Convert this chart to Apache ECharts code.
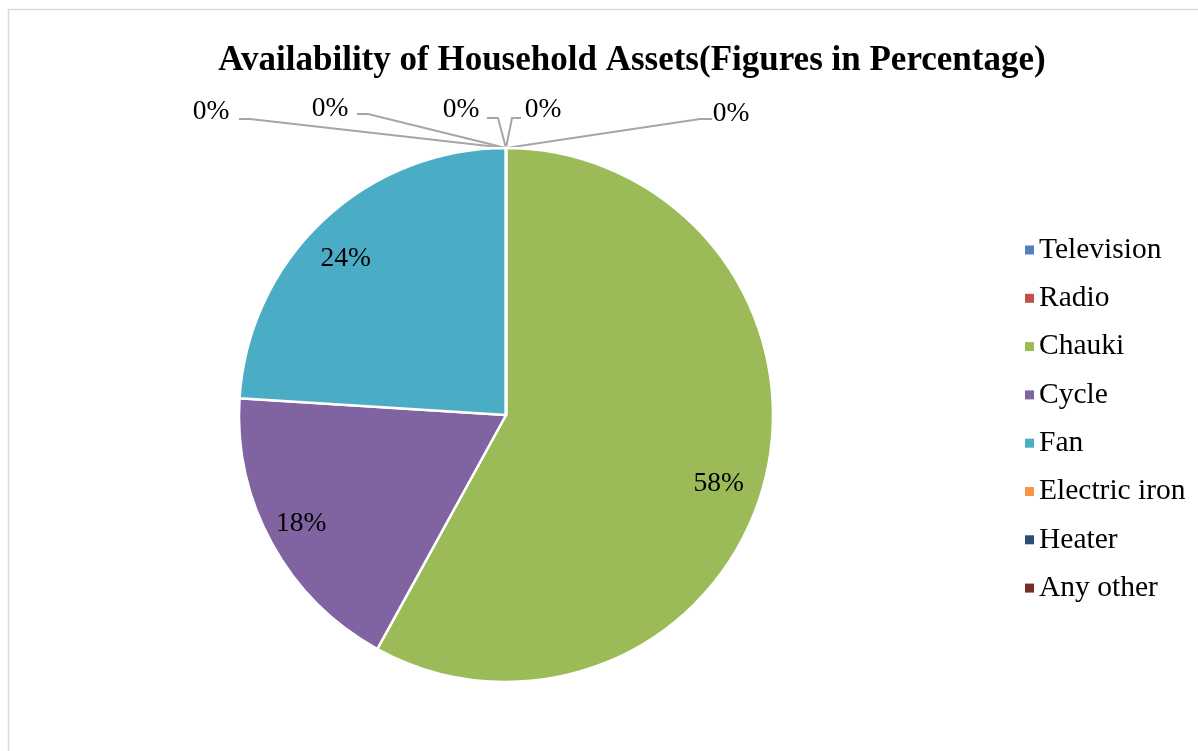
<!DOCTYPE html>
<html>
<head>
<meta charset="utf-8">
<script src="https://cdn.jsdelivr.net/npm/echarts@6/dist/echarts.min.js"></script>
<style>
html,body{margin:0;padding:0;background:#fff;}
#chart{width:1198px;height:751px;}
</style>
</head>
<body>
<div id="chart"></div>
<script>
// ---- data ----
const categories = ['Television', 'Radio', 'Chauki', 'Cycle', 'Fan', 'Electric iron', 'Heater', 'Any other'];
const values = [0, 0, 58, 18, 24, 0, 0, 0];
const colors = ['#4F81BD', '#C0504D', '#9BBB59', '#8064A2', '#4BACC6', '#F79646', '#2C4D75', '#772C2A'];
const titleText = 'Availability of Household Assets(Figures in Percentage)';

// ---- layout ----
const CX = 506, CY = 415, R = 267;
// labels of zero-value slices: [labelCenterX, labelCenterY, elbowX, elbowY, endX]
const zeroLabelLayout = {
  0: [543, 110, 512, 118, 521],
  1: [731, 114, 700, 119, 712],
  5: [211, 112, 250, 119, 239],
  6: [330, 109, 368, 114, 357],
  7: [461, 110, 498, 118, 487]
};
// small nudges of inside labels (pixels)
const insideLabelNudge = { 2: [-7, 12], 3: [-6, -1], 4: [-5, 9] };

const total = values.reduce((a, b) => a + b, 0);
const cum = [];
values.reduce((acc, v, i) => { cum[i] = acc + v / 2; return acc + v; }, 0);

const chart = echarts.init(document.getElementById('chart'));
chart.setOption({
  animation: false,
  backgroundColor: '#fff',
  color: colors,
  graphic: [{
    type: 'rect',
    shape: { x: 8.5, y: 9.5, width: 1400, height: 900 },
    style: { fill: 'none', stroke: '#d9d9d9', lineWidth: 1.5 },
    silent: true
  }],
  title: {
    text: titleText,
    left: 627,
    textAlign: 'center',
    top: 38,
    textStyle: { fontFamily: 'Liberation Serif', fontWeight: 'bold', fontSize: 35, color: '#000' }
  },
  legend: {
    orient: 'vertical',
    left: 1020,
    top: 230,
    icon: 'rect',
    itemWidth: 9,
    itemHeight: 9,
    itemGap: 18.3,
    itemStyle: { borderWidth: 0 },
    textStyle: { fontFamily: 'Liberation Serif', fontSize: 29.5, color: '#000' },
    data: categories
  },
  series: [{
    type: 'pie',
    center: [CX, CY],
    radius: R,
    startAngle: 90,
    clockwise: true,
    avoidLabelOverlap: false,
    minShowLabelAngle: 0,
    itemStyle: { borderColor: '#fff', borderWidth: 2.5 },
    label: {
      show: true,
      position: 'outside',
      formatter: '{d}%',
      fontFamily: 'Liberation Serif',
      fontSize: 27.5,
      color: '#000'
    },
    labelLine: { show: true, lineStyle: { color: '#a6a6a6', width: 2 } },
    emphasis: { disabled: true },
    labelLayout: function (p) {
      const i = p.dataIndex;
      if (zeroLabelLayout[i]) {
        const z = zeroLabelLayout[i];
        return {
          x: z[0], y: z[1], align: 'center', verticalAlign: 'middle',
          labelLinePoints: [[CX, CY - R], [z[2], z[3]], [z[4], z[3]]]
        };
      }
      const th = cum[i] / total * 2 * Math.PI;
      const n = insideLabelNudge[i] || [0, 0];
      return {
        x: CX + 0.85 * R * Math.sin(th) + n[0],
        y: CY - 0.85 * R * Math.cos(th) + n[1],
        align: 'center', verticalAlign: 'middle'
      };
    },
    data: categories.map((c, i) => ({
      name: c,
      value: values[i],
      labelLine: { show: values[i] === 0 }
    }))
  }]
});
</script>
</body>
</html>
